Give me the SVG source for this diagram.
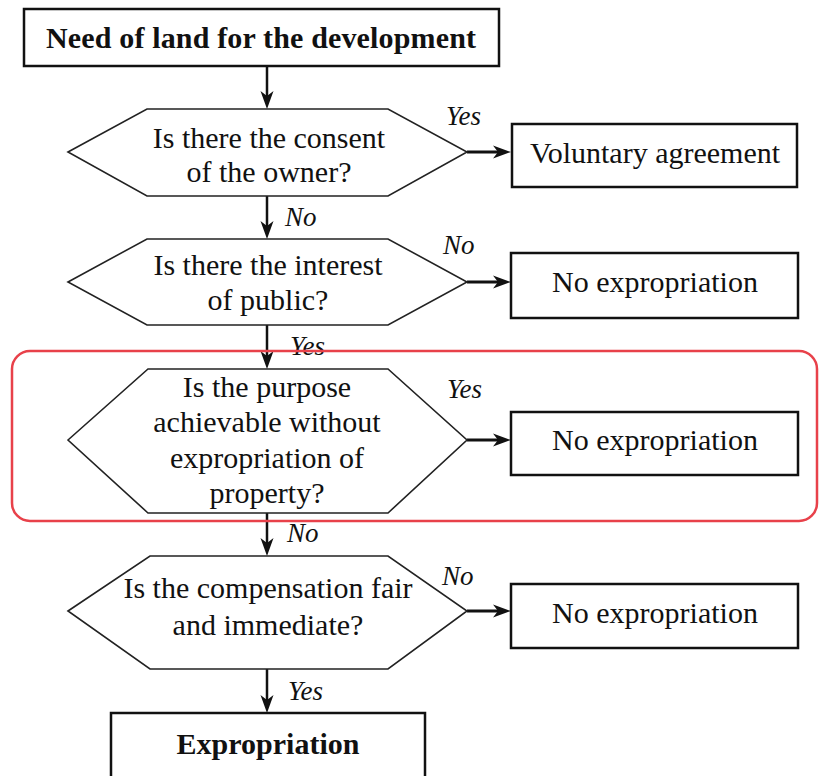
<svg xmlns="http://www.w3.org/2000/svg" width="819" height="776" viewBox="0 0 819 776">
<defs>
<style>
.box{fill:#fff;stroke:#111;stroke-width:2.5}
.hex{fill:#fff;stroke:#222;stroke-width:1.6}
.t{font-family:"Liberation Serif","Times New Roman",serif;font-size:30px;fill:#111;text-anchor:middle}
.b{font-weight:bold}
.lab{font-family:"Liberation Serif","Times New Roman",serif;font-size:27px;font-style:italic;fill:#111}
.v{stroke:#111;stroke-width:2.5;fill:none;marker-end:url(#ah)}
.h{stroke:#111;stroke-width:3;fill:none;marker-end:url(#ah)}
.hl{fill:none;stroke:#e8414a;stroke-width:2.5}
</style>
<marker id="ah" markerUnits="userSpaceOnUse" viewBox="0 -7 19 14" refX="10" refY="0" markerWidth="19" markerHeight="14" orient="auto">
<path d="M18,0 L0,-6.5 L5,0 L0,6.5 Z" fill="#111"/>
</marker>
</defs>
<rect width="819" height="776" fill="#fff"/>

<g id="connectors">
<line class="v" x1="267" y1="66" x2="267" y2="101"/>
<line class="h" x1="467" y1="152" x2="503" y2="152"/>
<line class="v" x1="267" y1="196" x2="267" y2="231"/>
<line class="h" x1="467" y1="282" x2="503" y2="282"/>
<line class="v" x1="267" y1="325" x2="267" y2="361"/>
<line class="h" x1="467" y1="440" x2="503" y2="440"/>
<line class="v" x1="267" y1="513" x2="267" y2="548"/>
<line class="h" x1="467" y1="611" x2="503" y2="611"/>
<line class="v" x1="267" y1="669" x2="267" y2="705"/>
<text class="lab" x="446" y="125">Yes</text>
<text class="lab" x="285" y="226">No</text>
<text class="lab" x="443" y="254">No</text>
<text class="lab" x="290" y="355">Yes</text>
<text class="lab" x="447" y="398">Yes</text>
<text class="lab" x="287" y="542">No</text>
<text class="lab" x="442" y="585">No</text>
<text class="lab" x="288" y="700">Yes</text>
</g>

<g id="start">
<rect class="box" x="24" y="9" width="475" height="57"/>
<text class="t b" x="261" y="48" textLength="430" lengthAdjust="spacing">Need of land for the development</text>
</g>

<g id="q1">
<polygon class="hex" points="68,152 147,109 388,109 467,152 388,196 147,196"/>
<text class="t" x="269" y="148">Is there the consent</text>
<text class="t" x="269" y="182">of the owner?</text>
</g>

<g id="r1">
<rect class="box" x="512" y="124" width="285" height="63"/>
<text class="t" x="655" y="163">Voluntary agreement</text>
</g>

<g id="q2">
<polygon class="hex" points="68,282 147,239 388,239 467,282 388,325 147,325"/>
<text class="t" x="268" y="275">Is there the interest</text>
<text class="t" x="268" y="310">of public?</text>
</g>

<g id="r2">
<rect class="box" x="511" y="253" width="287" height="65"/>
<text class="t" x="655" y="292">No expropriation</text>
</g>

<g id="q3">
<polygon class="hex" points="68,440 148,369 388,369 467,440 388,513 148,513"/>
<text class="t" x="267" y="397">Is the purpose</text>
<text class="t" x="267" y="432">achievable without</text>
<text class="t" x="267" y="468">expropriation of</text>
<text class="t" x="267" y="503">property?</text>
</g>

<g id="r3">
<rect class="box" x="511" y="412" width="287" height="63"/>
<text class="t" x="655" y="450">No expropriation</text>
</g>

<g id="q4">
<polygon class="hex" points="68,611 150,556 388,556 467,611 388,669 150,669"/>
<text class="t" x="268" y="598">Is the compensation fair</text>
<text class="t" x="268" y="635">and immediate?</text>
</g>

<g id="r4">
<rect class="box" x="511" y="584" width="287" height="64"/>
<text class="t" x="655" y="623">No expropriation</text>
</g>

<g id="end">
<rect class="box" x="111" y="713" width="314" height="75"/>
<text class="t b" x="268" y="754">Expropriation</text>
</g>

<g id="highlight">
<rect class="hl" x="12" y="351" width="805" height="170" rx="18" ry="18"/>
</g>
</svg>
